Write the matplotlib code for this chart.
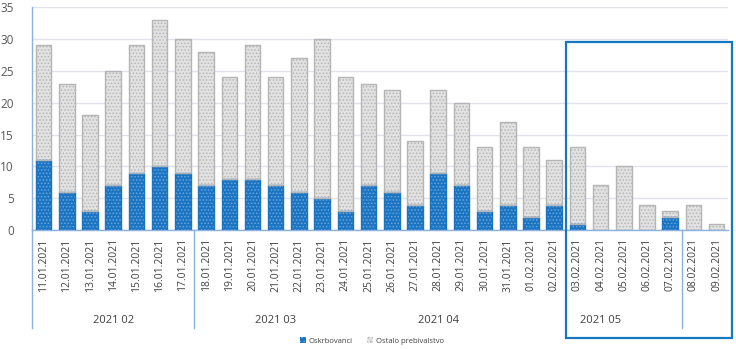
import matplotlib
matplotlib.use('Agg')
import matplotlib.pyplot as plt
import matplotlib.transforms as mtransforms
from matplotlib.patches import Rectangle, Patch
from matplotlib.lines import Line2D
import numpy as np

dates = ['11.01.2021', '12.01.2021', '13.01.2021', '14.01.2021', '15.01.2021',
         '16.01.2021', '17.01.2021', '18.01.2021', '19.01.2021', '20.01.2021',
         '21.01.2021', '22.01.2021', '23.01.2021', '24.01.2021', '25.01.2021',
         '26.01.2021', '27.01.2021', '28.01.2021', '29.01.2021', '30.01.2021',
         '31.01.2021', '01.02.2021', '02.02.2021', '03.02.2021', '04.02.2021',
         '05.02.2021', '06.02.2021', '07.02.2021', '08.02.2021', '09.02.2021']
totals = [29, 23, 18, 25, 29, 33, 30, 28, 24, 29, 24, 27, 30, 24, 23,
          22, 14, 22, 20, 13, 17, 13, 11, 13, 7, 10, 4, 3, 4, 1]
residents = [11, 6, 3, 7, 9, 10, 9, 7, 8, 8, 7, 6, 5, 3, 7,
             6, 4, 9, 7, 3, 4, 2, 4, 1, 0, 0, 0, 2, 0, 0]
others = [t - r for t, r in zip(totals, residents)]

weeks = ['2021 02', '2021 03', '2021 04', '2021 05', '']
week_start = [0, 7, 14, 21, 28]
week_lines = [0, 7, 28]
series_names = ['Oskrbovanci', 'Ostalo prebivalstvo']

plt.rcParams['font.family'] = ['Open Sans', 'DejaVu Sans']
plt.rcParams['hatch.linewidth'] = 0.7

blue = '#1a74c2'
blue_hatch = '#6aa6dd'
grey = '#e2e2e2'
grey_hatch = '#b5b5b5'
axis_blue = '#8cb0e0'
text_col = '#404040'

fig = plt.figure(figsize=(7.36, 3.49), dpi=100, facecolor='white')
ax = fig.add_axes([0.0435, 0.341, 0.946, 0.638])

x = np.arange(len(dates))
w = 0.67


def stacked(xs, heights, bottoms, fill, hatch_col, edge):
    # skip empty segments so they leave no outline on the baseline
    keep = [i for i, h in enumerate(heights) if h > 0]
    xs = [xs[i] for i in keep]
    hs = [heights[i] for i in keep]
    bs = [bottoms[i] for i in keep]
    ax.bar(xs, hs, w, bottom=bs, color=fill, edgecolor=hatch_col, hatch='.....',
           linewidth=0, zorder=2)
    ax.bar(xs, hs, w, bottom=bs, fill=False, edgecolor=edge, linewidth=1.0, zorder=3)


stacked(list(x), residents, [0] * len(x), blue, blue_hatch, blue)
stacked(list(x), others, residents, grey, grey_hatch, grey_hatch)

ax.set_xlim(-0.5, len(dates) - 0.5)
ax.set_ylim(0, 35)
ax.set_yticks(range(0, 36, 5))
ax.yaxis.grid(True, color='#e2e2ee', linewidth=1.0)
ax.set_axisbelow(True)
ax.tick_params(axis='y', length=0, pad=13, labelsize=8.5, labelcolor='#595959')

ax.set_xticks(x)
ax.set_xticklabels(dates, rotation=90, fontsize=7.5, color=text_col)
ax.tick_params(axis='x', length=0, pad=6)

for side in ['top', 'right']:
    ax.spines[side].set_visible(False)
for side in ['left', 'bottom']:
    ax.spines[side].set_color(axis_blue)
    ax.spines[side].set_linewidth(1.0)

# week grouping below the dates
trans = mtransforms.blended_transform_factory(ax.transData, ax.transAxes)
for b in week_lines:
    ax.add_line(Line2D([b - 0.5, b - 0.5], [0, -0.44], transform=trans,
                       color=axis_blue, linewidth=1.0, clip_on=False))
ends = week_start[1:] + [len(dates)]
for name, s, e in zip(weeks, week_start, ends):
    ax.text((s + e - 1) / 2, -0.405, name, transform=trans, ha='center', va='center',
            fontsize=8, color=text_col)

# highlighted last week
ax.add_patch(Rectangle((22.5, -0.486), 7.15, 1.33, transform=trans, fill=False,
                       edgecolor='#1577c2', linewidth=1.6, clip_on=False, zorder=5))

handles = [Patch(facecolor=blue, edgecolor=blue_hatch, hatch='....', linewidth=0),
           Patch(facecolor=grey, edgecolor=grey_hatch, hatch='....', linewidth=0)]
fig.legend(handles, series_names, loc='center', bbox_to_anchor=(0.505, 0.023),
           ncol=2, frameon=False, fontsize=5.5, handlelength=0.8, handleheight=0.8,
           handletextpad=0.3, columnspacing=2.0, labelcolor=text_col)

fig.savefig('out.png', dpi=100, facecolor='white')
